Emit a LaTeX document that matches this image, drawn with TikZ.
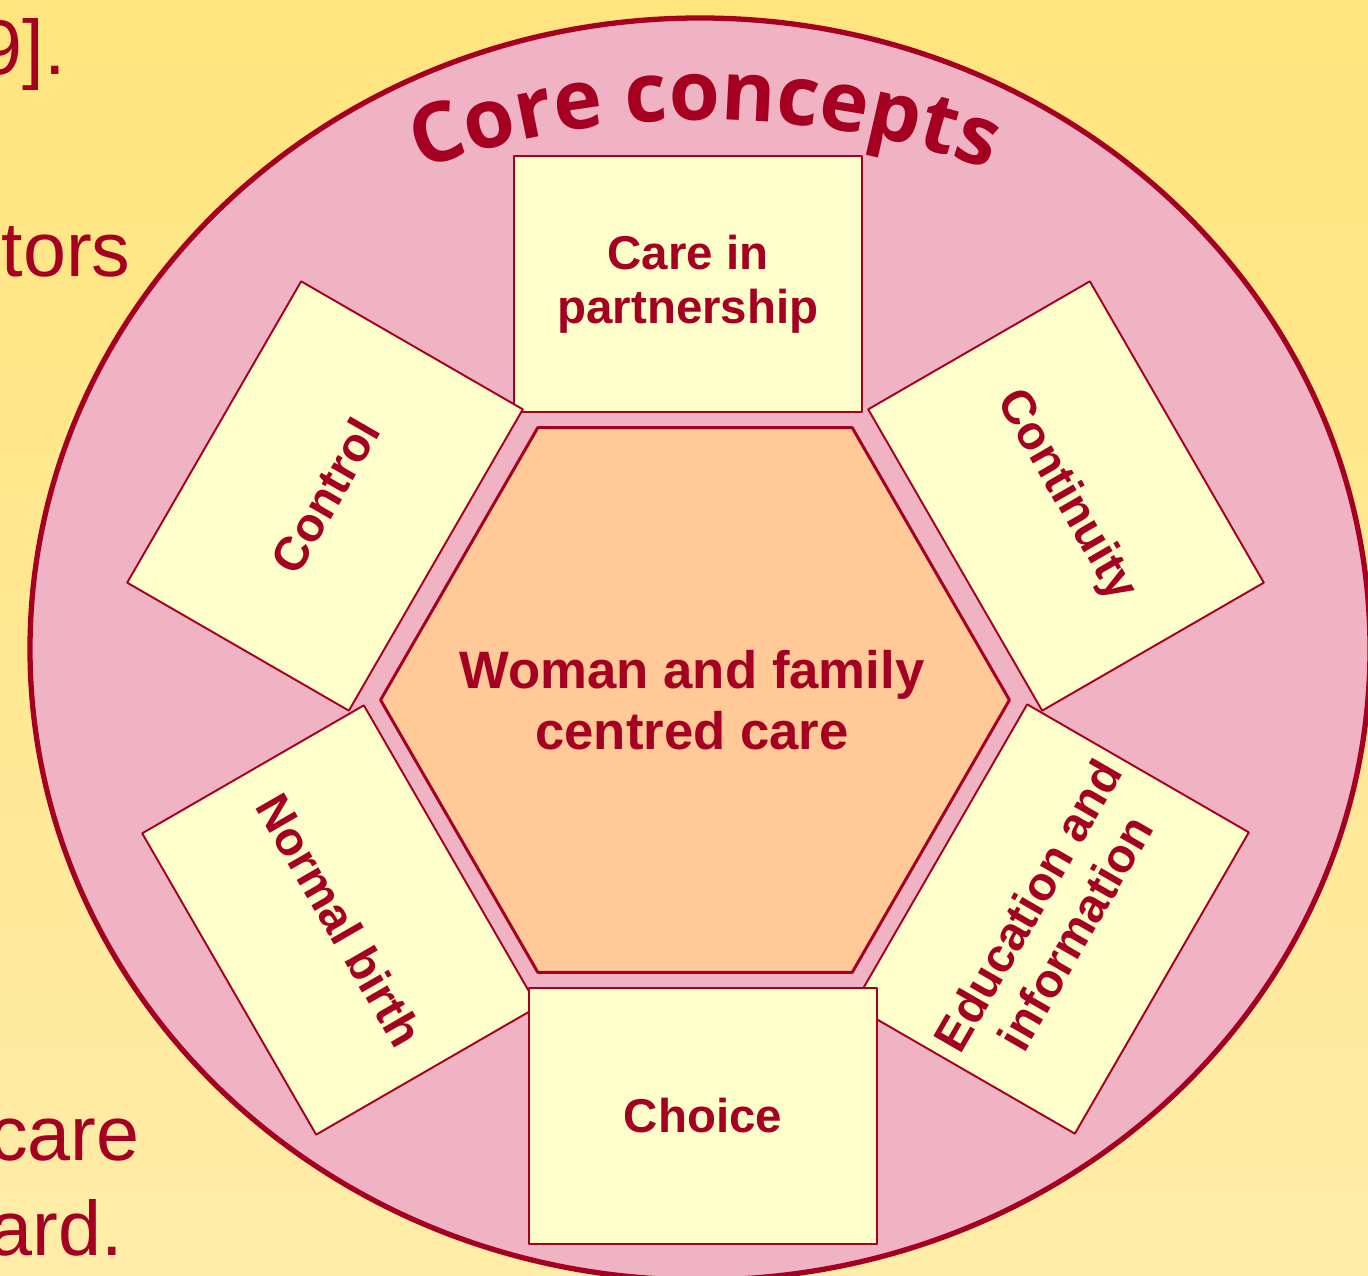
\documentclass[tikz,border=0pt]{standalone}
\usepackage{fontspec}
\setmainfont{Liberation Sans}
\newfontfamily\titlefont{Open Sans}
\usetikzlibrary{decorations.text,shapes.geometric}

\definecolor{crimson}{HTML}{A50021}
\definecolor{sand}{HTML}{FFE57E}
\definecolor{sandlight}{HTML}{FFECA8}
\definecolor{rosefill}{HTML}{F0B3C3}
\definecolor{cream}{HTML}{FFFFCC}
\definecolor{peach}{HTML}{FFCA98}

\tikzset{
	concept/.style={draw=crimson, line width=1.1pt, fill=cream, minimum width=6.96cm, minimum height=5.12cm,
		inner sep=0pt, align=center, text=crimson, font=\bfseries\fontsize{27}{31}\selectfont},
	hub/.style={regular polygon, regular polygon sides=6, draw=crimson, line width=1.7pt, fill=peach,
		minimum size=12.58cm, inner sep=0pt},
	hubtext/.style={align=center, inner sep=0pt, text=crimson, font=\bfseries\fontsize{30}{35}\selectfont},
	fragment/.style={anchor=base east, inner sep=0pt, text=crimson, font=\fontsize{44}{44}\selectfont}
}

\begin{document}
\begin{tikzpicture}[x=0.02cm, y=0.02cm, line join=round]
	\useasboundingbox (0,0) rectangle (1368,1275);
	\clip (0,0) rectangle (1368,1275);
	\shade[top color=sand, bottom color=sandlight] (0,0) rectangle (1368,1275);
	% text running off the left edge
	\node[fragment] (leftA) at (66,1200) {9].};
	\node[fragment] (leftB) at (131,998) {tors};
	\node[fragment] (leftC) at (140,115) {care};
	\node[fragment] (leftD) at (123,20) {ard.};
	% ring and its title
	\draw[crimson, line width=3pt, fill=rosefill] (700,626) ellipse [x radius=670, y radius=631];
	\path[decorate, decoration={text along path, text align=center,
		text={|\titlefont\bfseries\fontsize{47}{47}\selectfont\color{crimson}|Core concepts}}]
		(290,1044) arc[start angle=120, end angle=60, radius=830];
	% centre
	\node[hub] (hub) at (695,575) {};
	\node[hubtext] (hublabel) at ([xshift=-0.06cm]hub.center) {Woman and family\\centred care};
	% the six concepts
	\foreach \n/\x/\y/\r/\t in {
		care/688/991/0/{Care in\\partnership},
		control/325/779/60/Control,
		continuity/1066/779/-60/Continuity,
		normal/340/355/-60/Normal birth,
		education/1051/356/60/{Education and\\information},
		choice/703/159/0/Choice}
		\node[concept, rotate=\r] (\n) at (\x,\y) {\t};
\end{tikzpicture}
\end{document}
